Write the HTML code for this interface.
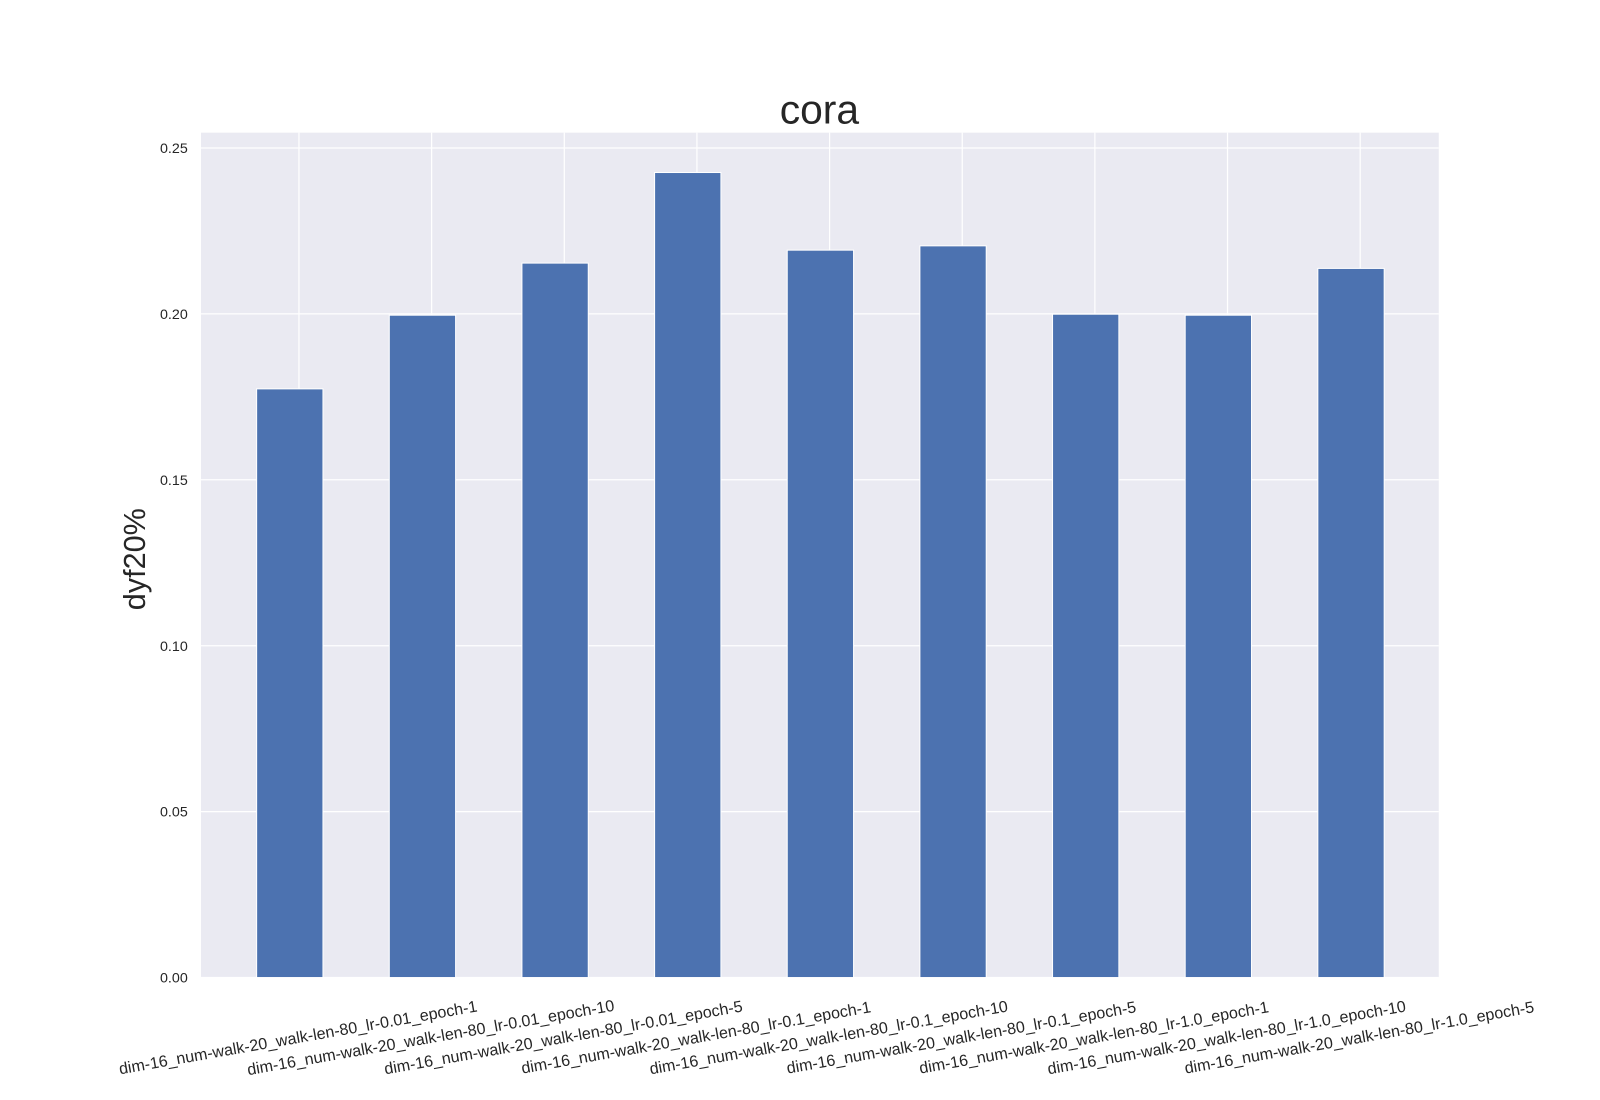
<!DOCTYPE html>
<html><head><meta charset="utf-8"><style>
html,body{margin:0;padding:0;background:#fff;}
svg{display:block;font-family:"Liberation Sans",Arial,sans-serif;}
</style></head><body>
<svg id="chart" width="1600" height="1100">
<g transform="scale(1.0204)">
<rect x="197" y="130" width="1213" height="828" fill="#eaeaf2"/>
<g id="grid"></g><g id="bars"></g><g id="yticks"></g><g id="xticks"></g>
<text x="803" y="121" font-size="40" text-anchor="middle" fill="#262626">cora</text>
<text transform="translate(142,548) rotate(-90)" font-size="30" text-anchor="middle" fill="#262626">dyf20%</text>
</g>
</svg>
<script>
const categories = [
"dim-16_num-walk-20_walk-len-80_lr-0.01_epoch-1",
"dim-16_num-walk-20_walk-len-80_lr-0.01_epoch-10",
"dim-16_num-walk-20_walk-len-80_lr-0.01_epoch-5",
"dim-16_num-walk-20_walk-len-80_lr-0.1_epoch-1",
"dim-16_num-walk-20_walk-len-80_lr-0.1_epoch-10",
"dim-16_num-walk-20_walk-len-80_lr-0.1_epoch-5",
"dim-16_num-walk-20_walk-len-80_lr-1.0_epoch-1",
"dim-16_num-walk-20_walk-len-80_lr-1.0_epoch-10",
"dim-16_num-walk-20_walk-len-80_lr-1.0_epoch-5"];
const values = [0.1774,0.1996,0.2153,0.2426,0.2192,0.2205,0.1999,0.1996,0.2137];
const yTicks = [0,0.05,0.10,0.15,0.20,0.25];
const yTickLabels = ["0.00","0.05","0.10","0.15","0.20","0.25"];
const NS="http://www.w3.org/2000/svg";
function y(v){return 958 - v*3252;}
function xc(i){return 284 + i*130;}
function mk(t,a,p){const e=document.createElementNS(NS,t);for(const k in a)e.setAttribute(k,a[k]);p.appendChild(e);return e;}
const grid=document.getElementById('grid'),bars=document.getElementById('bars'),yt=document.getElementById('yticks'),xt=document.getElementById('xticks');
yTicks.forEach((v,i)=>{
 const l=mk('line',{x1:197,x2:1410,y1:y(v),y2:y(v),stroke:'#fff','stroke-width':1.2},grid);
 
 
 const t=mk('text',{x:184,y:y(v)+5,'font-size':14,'text-anchor':'end',fill:'#262626'},yt);
 t.textContent=yTickLabels[i];
 
 
});
categories.forEach((c,i)=>{
 const gx=xc(i)+9;
 const l=mk('line',{x1:gx,x2:gx,y1:130,y2:958,stroke:'#fff','stroke-width':1.2},grid);
 
 
 const r=mk('rect',{x:xc(i)-32.5,y:y(values[i]),width:65,height:958-y(values[i]),fill:'#4c72b0',stroke:'#fff','stroke-width':1},bars);
 
 
 const t=mk('text',{transform:'translate('+gx+',1022) rotate(-10)','font-size':15.8,'text-anchor':'middle',fill:'#262626'},xt);
 t.textContent=c;
 
 
});
</script>
</body></html>
